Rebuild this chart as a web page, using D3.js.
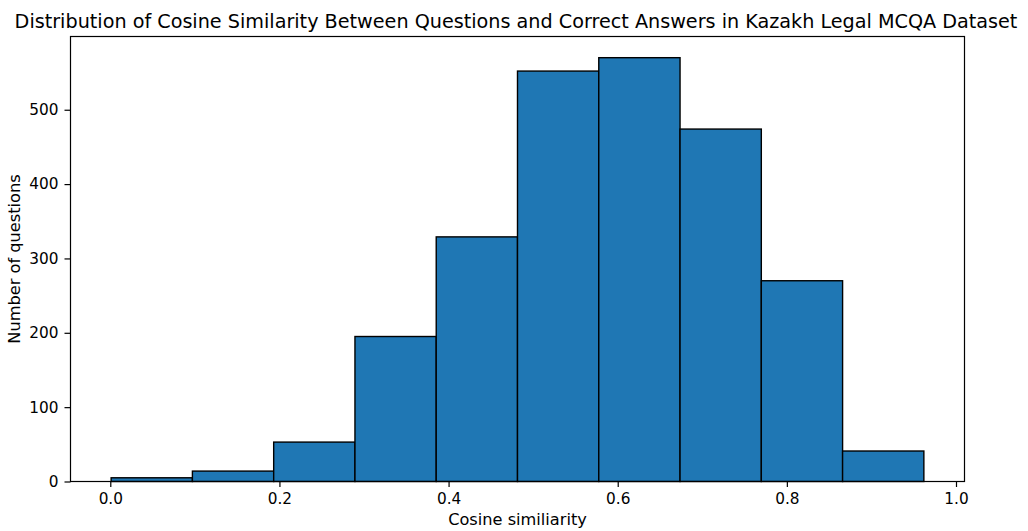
<!DOCTYPE html>
<html><head><meta charset="utf-8">
<script src="https://cdn.jsdelivr.net/npm/d3@7"></script>
<style>body{margin:0;background:#fff}svg{display:block}text{font-family:"DejaVu Sans",sans-serif;fill:#000}</style>
</head><body>
<script>
const binStart = 0.001;
const binWidth = 0.0961;
const counts = [5, 14, 53, 195, 329, 552, 570, 474, 270, 41];
const xTicks = [0.0, 0.2, 0.4, 0.6, 0.8, 1.0];
const yTicks = [0, 100, 200, 300, 400, 500];
const title = "Distribution of Cosine Similarity Between Questions and Correct Answers in Kazakh Legal MCQA Dataset";
const xLabel = "Cosine similiarity";
const yLabel = "Number of questions";

const W = 1028, H = 531;
const m = {left: 70.5, right: 1028 - 964.5, top: 36.5, bottom: 531 - 481.5};
const svg = d3.select("body").append("svg").attr("width", W).attr("height", H);

const bins = counts.map((c, i) => ({x0: binStart + i * binWidth, x1: binStart + (i + 1) * binWidth, c}));
const xmin = binStart, xmax = binStart + counts.length * binWidth;
const pad = (xmax - xmin) * 0.05;
const x = d3.scaleLinear().domain([xmin - pad, xmax + pad]).range([m.left, W - m.right]);
const ymax = d3.max(counts) * 1.05;
const y = d3.scaleLinear().domain([0, ymax]).range([H - m.bottom, m.top]);

svg.append("g").selectAll("rect").data(bins).join("rect")
  .attr("x", d => x(d.x0)).attr("y", d => y(d.c))
  .attr("width", d => x(d.x1) - x(d.x0)).attr("height", d => y(0) - y(d.c))
  .attr("fill", "#1f77b4").attr("stroke", "#000").attr("stroke-width", 1.4);

const fs = "15.3px";
const lfs = "16.2px";
const xa = svg.append("g").attr("transform", `translate(0,${H - m.bottom})`)
  .call(d3.axisBottom(x).tickValues(xTicks).tickFormat(d3.format(".1f")).tickSizeOuter(0).tickSize(5.5).tickPadding(6));
const ya = svg.append("g").attr("transform", `translate(${m.left},0)`)
  .call(d3.axisLeft(y).tickValues(yTicks).tickFormat(d3.format("d")).tickSizeOuter(0).tickSize(6).tickPadding(6));
[xa, ya].forEach(a => {
  a.select(".domain").remove();
  a.selectAll("line").attr("stroke", "#000").attr("stroke-width", 1.2);
  a.selectAll("text").style("font-size", fs).attr("fill", "#000");
});

svg.append("rect").attr("x", m.left).attr("y", m.top)
  .attr("width", W - m.right - m.left).attr("height", H - m.bottom - m.top)
  .attr("fill", "none").attr("stroke", "#000").attr("stroke-width", 1.2);

svg.append("text").attr("x", 516).attr("y", 27.5)
  .attr("text-anchor", "middle").style("font-size", "19.2px").text(title);
svg.append("text").attr("x", (m.left + W - m.right) / 2).attr("y", 525)
  .attr("text-anchor", "middle").style("font-size", lfs).text(xLabel);
svg.append("text").attr("transform", `translate(20,${(m.top + H - m.bottom) / 2}) rotate(-90)`)
  .attr("text-anchor", "middle").style("font-size", lfs).text(yLabel);
</script>
</body></html>
